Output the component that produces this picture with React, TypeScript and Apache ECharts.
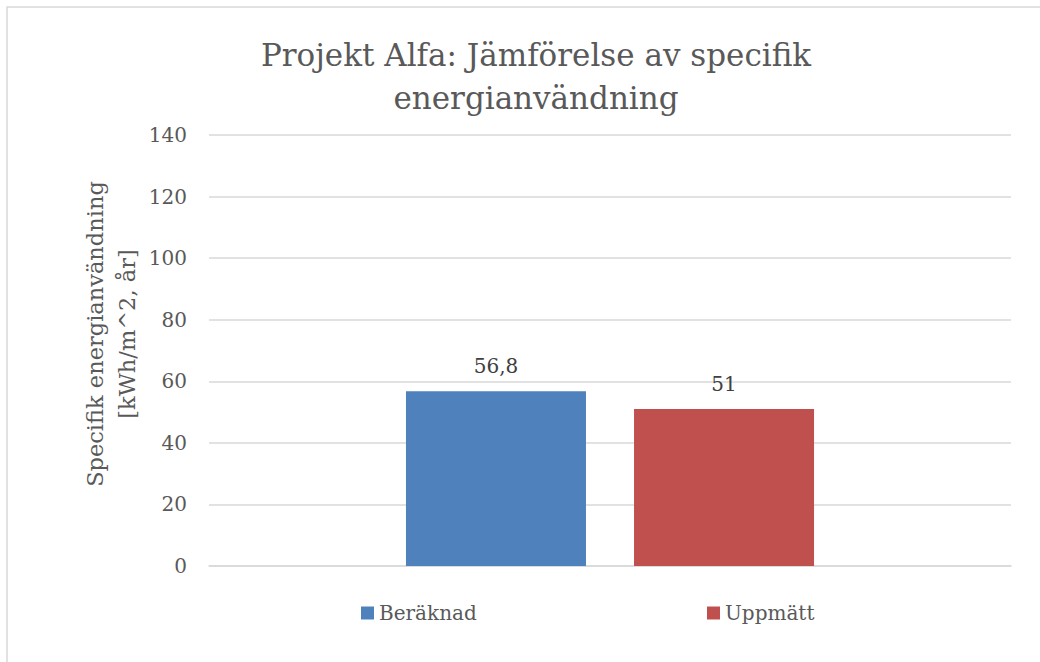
import React, { useEffect, useRef } from "react";
import * as echarts from "echarts";

const categories = [""];
const seriesNames = ["Beräknad", "Uppmätt"];
const beraknad = [56.8];
const uppmatt = [51];
const colors = ["#4F81BD", "#C0504D"];
const yTicks = { min: 0, max: 140, interval: 20 };
const titleText = "Projekt Alfa: Jämförelse av specifik\nenergianvändning";
const yAxisName = "Specifik energianvändning\n[kWh/m^2, år]";

const FONT = "'DejaVu Serif', serif";

export default function App() {
  const ref = useRef<HTMLDivElement>(null);
  useEffect(() => {
    if (!ref.current) return;
    const chart = echarts.init(ref.current, null, { renderer: "svg" });
    const fmt = (p: any) => String(p.value).replace(".", ",");
    chart.setOption({
      animation: false,
      backgroundColor: "#ffffff",
      textStyle: { fontFamily: FONT },
      title: {
        text: titleText,
        left: 531,
        top: 28,
        textAlign: "center",
        textStyle: {
          fontFamily: FONT,
          fontSize: 31,
          fontWeight: "normal",
          color: "#595959",
          lineHeight: 43,
        },
      },
      graphic: [
        {
          type: "rect",
          shape: { x: 7, y: 7, width: 1100, height: 700 },
          style: { fill: "none", stroke: "#D9D9D9", lineWidth: 1.5 },
          silent: true,
        },
        {
          type: "text",
          x: 111,
          y: 334,
          rotation: Math.PI / 2,
          silent: true,
          style: {
            text: yAxisName,
            align: "center",
            verticalAlign: "middle",
            fontFamily: FONT,
            fontSize: 22.5,
            lineHeight: 32,
            fill: "#595959",
          },
        },
      ],
      legend: [
        {
          data: [seriesNames[0]],
          left: 356,
          top: 598,
          itemWidth: 13,
          itemHeight: 13,
          icon: "rect",
          itemGap: 8,
          textStyle: { fontFamily: FONT, fontSize: 20, color: "#595959" },
        },
        {
          data: [seriesNames[1]],
          left: 702,
          top: 598,
          itemWidth: 13,
          itemHeight: 13,
          icon: "rect",
          textStyle: { fontFamily: FONT, fontSize: 20, color: "#595959" },
        },
      ],
      grid: { left: 209, right: 29, top: 135, bottom: 96, containLabel: false },
      xAxis: {
        type: "category",
        data: categories,
        axisLine: { show: true, lineStyle: { color: "#D9D9D9", width: 1.5 } },
        axisTick: { show: false },
        axisLabel: { show: false },
      },
      yAxis: {
        type: "value",
        min: yTicks.min,
        max: yTicks.max,
        interval: yTicks.interval,
        axisLine: { show: false },
        axisTick: { show: false },
        axisLabel: {
          fontFamily: FONT,
          fontSize: 20,
          color: "#595959",
          margin: 22,
        },
        splitLine: { lineStyle: { color: "#D9D9D9", width: 1.5 } },
      },
      series: [
        {
          name: seriesNames[0],
          type: "bar",
          data: beraknad,
          barWidth: 180,
          barGap: "26.7%",
          itemStyle: { color: colors[0] },
          label: {
            show: true,
            position: "top",
            distance: 15,
            formatter: fmt,
            fontFamily: FONT,
            fontSize: 20,
            color: "#404040",
          },
        },
        {
          name: seriesNames[1],
          type: "bar",
          data: uppmatt,
          barWidth: 180,
          itemStyle: { color: colors[1] },
          label: {
            show: true,
            position: "top",
            distance: 15,
            formatter: fmt,
            fontFamily: FONT,
            fontSize: 20,
            color: "#404040",
          },
        },
      ],
    });
    return () => chart.dispose();
  }, []);
  return (
    <div
      ref={ref}
      style={{ position: "fixed", left: 0, top: 0, width: 1040, height: 662 }}
    />
  );
}
